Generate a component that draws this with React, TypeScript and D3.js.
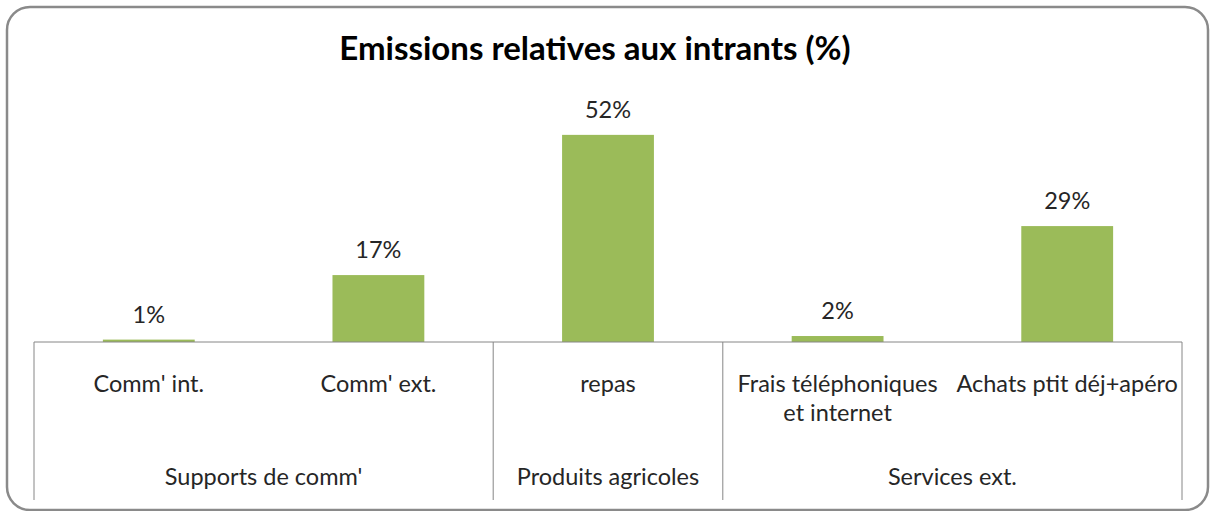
import React from "react";
import * as d3 from "d3";

const categories = ["Comm' int.", "Comm' ext.", "repas", "Frais téléphoniques\net internet", "Achats ptit déj+apéro"];
const values = [0.6, 16.8, 52, 1.5, 29.1];
const groups = ["Supports de comm'", "Produits agricoles", "Services ext."];
const groupSpans = [2, 1, 2];
const title = "Emissions relatives aux intrants (%)";

const W = 1210;
const H = 511;
const FONT = "Lato, 'Open Sans', sans-serif";

export default function App() {
  const x = d3.scaleBand<string>().domain(categories).range([34, 1182]).paddingInner(0).paddingOuter(0);
  const y = d3.scaleLinear().domain([0, 60]).range([342, 103]);
  const bw = x.bandwidth();
  const barW = bw * 0.4;
  const base = y(0);

  const bounds: number[] = [];
  let idx = 0;
  bounds.push(x(categories[0])!);
  groupSpans.forEach((s) => {
    idx += s;
    const last = categories[idx - 1];
    bounds.push(x(last)! + bw);
  });

  return (
    <svg width={W} height={H} style={{ position: "absolute", left: 0, top: 0, background: "#fff" }} fontFamily={FONT}>
      <rect x={7} y={7} width={1201} height={503} rx={23} ry={23} fill="#fff" stroke="#8a8a8a" strokeWidth={2.5} />
      <text x={595} y={60} textAnchor="middle" fontSize={33} fontWeight="bold" fill="#000">{title}</text>

      {categories.map((c, i) => {
        const cx = x(c)! + bw / 2;
        const top = y(values[i]);
        return (
          <g key={c}>
            <rect x={cx - barW / 2} y={top} width={barW} height={base - top} fill="#9BBB59" />
            <text x={cx} y={top - 17} textAnchor="middle" fontSize={23.5} fill="#262626">{Math.round(values[i])}%</text>
          </g>
        );
      })}

      <line x1={bounds[0]} x2={bounds[bounds.length - 1]} y1={base} y2={base} stroke="#868686" strokeWidth={1} />
      {bounds.map((b, i) => (
        <line key={i} x1={b} x2={b} y1={base} y2={500} stroke="#868686" strokeWidth={1} />
      ))}

      {categories.map((c) => {
        const cx = x(c)! + bw / 2;
        const lines = c.split("\n");
        return (
          <text key={c} x={cx} y={392} textAnchor="middle" fontSize={23.5} fill="#262626">
            {lines.map((l, j) => (
              <tspan key={j} x={cx} dy={j === 0 ? 0 : 29}>{l}</tspan>
            ))}
          </text>
        );
      })}

      {groups.map((g, i) => (
        <text key={g} x={(bounds[i] + bounds[i + 1]) / 2} y={485} textAnchor="middle" fontSize={23.5} fill="#262626">{g}</text>
      ))}
    </svg>
  );
}
